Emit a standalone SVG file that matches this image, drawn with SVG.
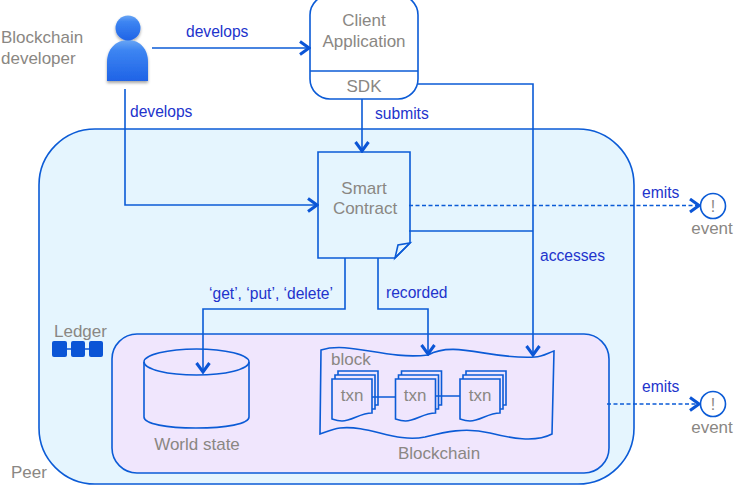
<svg xmlns="http://www.w3.org/2000/svg" width="750" height="496" viewBox="0 0 750 496">
<style>
text{font-family:"Liberation Sans",Arial,sans-serif}
.g{fill:#8a8783;font-size:17px}
.m{text-anchor:middle}
.b{fill:#2233cc;font-size:15.6px}
.s{fill:none;stroke:#0b5bd6;stroke-width:1.6}
.c{fill:none;stroke:#0b5bd6;stroke-width:1.6}
.d{stroke-dasharray:4 2.5}
</style>
<defs>
<marker id="a" markerUnits="userSpaceOnUse" markerWidth="14" markerHeight="16" refX="12" refY="8" orient="auto"><path d="M3 1.5L12 8L3 14.5" fill="none" stroke="#0b55d6" stroke-width="3"/></marker>
<linearGradient id="p" x1="0" y1="0" x2="0" y2="1"><stop offset="0" stop-color="#6aa6f4"/><stop offset=".25" stop-color="#3d85f2"/><stop offset="1" stop-color="#1f63e6"/></linearGradient>
<filter id="sh" x="-20%" y="-20%" width="140%" height="140%"><feDropShadow dx="0" dy="2" stdDeviation="1.5" flood-color="#000" flood-opacity=".35"/></filter>
<g id="txn"><path class="s" style="fill:#f0e6fd" d="M338 371H378V405H338Z"/><path class="s" style="fill:#f0e6fd" d="M335 375H375V409H335Z"/><path class="s" style="fill:#f0e6fd" d="M332 379H372V413C360 413 352 421 342 421C338 421 335 420 332 419Z"/></g>
</defs>
<rect width="750" height="496" fill="#fff"/>
<g id="peer"><rect class="s" style="fill:#e5f5fe" x="39" y="129" width="595" height="355" rx="56"/><text class="g" x="11" y="478">Peer</text></g>
<g id="ledger"><rect class="s" style="fill:#f0e6fd" x="112" y="334" width="497" height="139" rx="25"/><text class="g" x="54" y="337">Ledger</text>
<path d="M60 349H95" stroke="#0b55d6" stroke-width="1.5"/><rect x="52" y="341" width="15" height="16" rx="2" fill="#0b55d6"/><rect x="71" y="341" width="14" height="16" rx="2" fill="#0b55d6"/><rect x="89" y="341" width="14" height="16" rx="2" fill="#0b55d6"/></g>
<g id="developer"><text class="g" x="1" y="43">Blockchain</text><text class="g" x="1" y="64">developer</text>
<g filter="url(#sh)"><path d="M107 81V62C107 49 116 40 128 40C140 40 148 49 148 62V81Z" fill="url(#p)"/><circle cx="128" cy="28" r="12.500" fill="url(#p)"/></g></g>
<g id="client"><rect class="s" style="fill:#fff" x="310" y="-5" width="108" height="104" rx="20"/><path class="s" d="M310 71H418"/><text class="g m" x="364" y="26">Client</text><text class="g m" x="364" y="47">Application</text><text class="g m" x="364" y="92">SDK</text></g>
<g id="contract"><path class="s" style="fill:#e5f5fe" d="M318 152H410V243L395 258H318Z"/><path class="s" d="M395 258L398 245L410 243Z"/><text class="g m" x="364" y="194">Smart</text><text class="g m" x="365" y="214">Contract</text></g>
<g id="worldstate"><path class="s" d="M144 362V417C144 424 167 428 196 428C226 428 249 424 249 417V362"/><ellipse class="s" cx="196.500" cy="362" rx="52.500" ry="13"/><text class="g m" x="197" y="450">World state</text></g>
<g id="blockchain"><path class="s" d="M321 350C350 341 385 360 428 355C455 340 490 360 535 357C542 357 548 353 554 351L552 434C535 443 510 438 490 433C465 427 445 432 425 437C395 443 370 425 340 428C332 429 326 432 320 434Z"/><text class="g" x="331" y="365">block</text>
<use href="#txn"/><use href="#txn" x="63.500"/><use href="#txn" x="128"/>
<text class="g m" x="352" y="401">txn</text><text class="g m" x="415" y="401">txn</text><text class="g m" x="480" y="401">txn</text><text class="g m" x="439" y="459">Blockchain</text></g>
<g id="event1"><circle class="s" style="fill:#fff" cx="713" cy="206" r="12.500"/><text class="g m" x="713" y="212" style="font-size:16px">!</text><text class="g m" x="712" y="234">event</text></g>
<g id="event2"><circle class="s" style="fill:#fff" cx="713" cy="404" r="12.500"/><text class="g m" x="713" y="410" style="font-size:16px">!</text><text class="g m" x="712" y="433">event</text></g>
<g id="connectors">
<path class="c" d="M152 48H309" marker-end="url(#a)"/>
<path class="c" d="M125 89V205H317" marker-end="url(#a)"/>
<path class="c" d="M362 99V151" marker-end="url(#a)"/>
<path class="c" d="M418 84H533V355" marker-end="url(#a)"/>
<path class="c" d="M409 231H533"/>
<path class="c" d="M345 258V309H203V372" marker-end="url(#a)"/>
<path class="c" d="M378 258V309H428V354" marker-end="url(#a)"/>
<path class="c d" d="M409 205.500H699" marker-end="url(#a)"/>
<path class="c d" d="M607 404H699" marker-end="url(#a)"/>
<path class="c" d="M372 397H395M436 396H460"/>
</g>
<g id="labels"><text class="b" x="186" y="37">develops</text><text class="b" x="130" y="117">develops</text><text class="b" x="375" y="119">submits</text><text class="b" x="642" y="198">emits</text><text class="b" x="642" y="392">emits</text><text class="b" x="540" y="261">accesses</text><text class="b" x="386" y="298">recorded</text><text class="b" x="209" y="299">‘get’, ‘put’, ‘delete’</text></g>
</svg>
